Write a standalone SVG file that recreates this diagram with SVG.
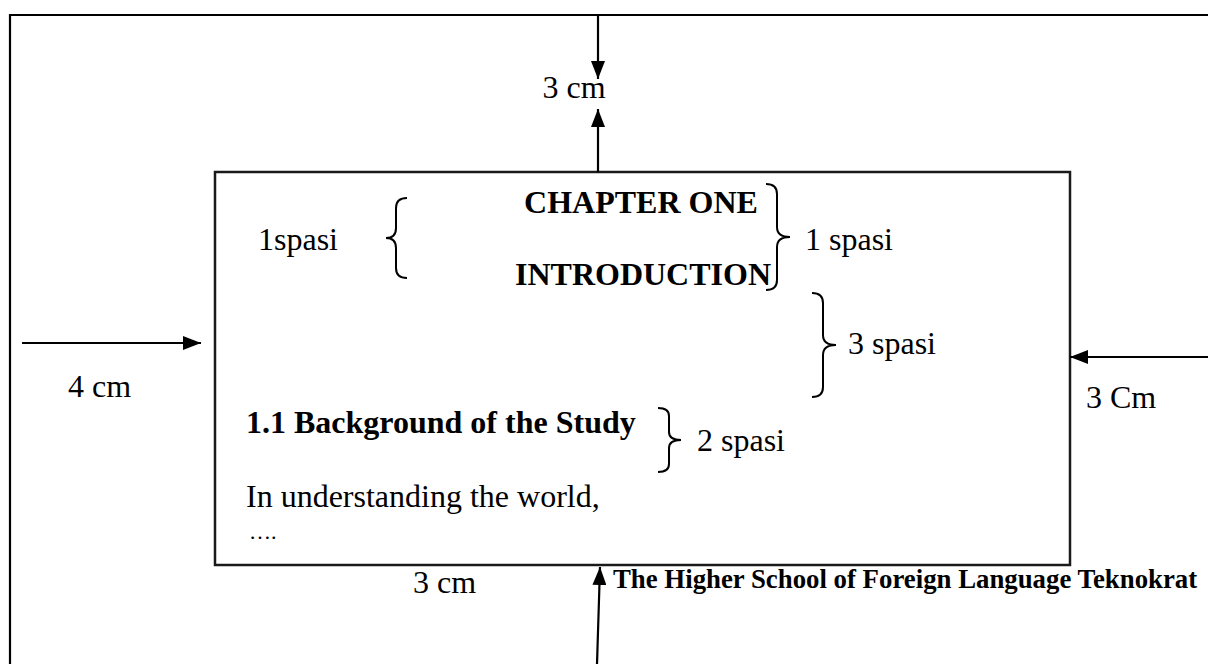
<svg xmlns="http://www.w3.org/2000/svg" width="1208" height="664" viewBox="0 0 1208 664">
<defs>
<marker id="ah" viewBox="0 0 18 14" refX="18" refY="7" markerWidth="18" markerHeight="14" markerUnits="userSpaceOnUse" orient="auto">
<path d="M0,0 L18,7 L0,14 Z" fill="#000"/>
</marker>
<style>
.ln{stroke:#000;stroke-width:2.2;fill:none}
.br{stroke:#000;stroke-width:2;fill:none}
.t{font-family:"Liberation Serif","Times New Roman",serif;font-size:32px;fill:#000}
.b{font-family:"Liberation Serif","Times New Roman",serif;font-size:32px;font-weight:bold;fill:#000}
.f{font-family:"Liberation Serif","Times New Roman",serif;font-size:26.8px;font-weight:bold;fill:#000}
</style>
</defs>
<rect width="1208" height="664" fill="#fff"/>
<g id="page">
<path class="ln" d="M10,664 V15 H1208"/>
</g>
<g id="textbox">
<rect x="215" y="172" width="855" height="393" fill="none" stroke="#1a1a1a" stroke-width="2.5"/>
<text class="b" x="641" y="213" text-anchor="middle">CHAPTER ONE</text>
<text class="b" x="643" y="285" text-anchor="middle">INTRODUCTION</text>
<text class="b" x="246" y="433">1.1 Background of the Study</text>
<text class="t" x="246" y="507">In understanding the world,</text>
<text class="t" x="249" y="539" style="font-size:22px">….</text>
</g>
<g id="braces">
<path class="br" d="M407,198 Q396,198 396,208 L396,228 Q396,238 386,238 Q396,238 396,248 L396,268 Q396,278 407,278"/>
<path class="br" d="M766,184 Q777,184 777,194 L777,227 Q777,237 790,237 Q777,237 777,247 L777,280 Q777,290 766,290"/>
<path class="br" d="M812,293 Q823,293 823,303 L823,335 Q823,345 836,345 Q823,345 823,355 L823,387 Q823,397 812,397"/>
<path class="br" d="M658,408 Q669,408 669,416 L669,432 Q669,440 681,440 Q669,440 669,448 L669,464 Q669,472 658,472"/>
</g>
<g id="labels">
<text class="t" x="574" y="98" text-anchor="middle">3 cm</text>
<text class="t" x="258" y="250">1spasi</text>
<text class="t" x="805" y="250">1 spasi</text>
<text class="t" x="848" y="354">3 spasi</text>
<text class="t" x="68" y="397">4 cm</text>
<text class="t" x="1086" y="408">3 Cm</text>
<text class="t" x="697" y="451">2 spasi</text>
<text class="t" x="413" y="593">3 cm</text>
<text class="f" x="613" y="588">The Higher School of Foreign Language Teknokrat</text>
</g>
<g id="connectors">
<line class="ln" x1="598" y1="15" x2="598" y2="79" marker-end="url(#ah)"/>
<line class="ln" x1="598" y1="172" x2="598" y2="109" marker-end="url(#ah)"/>
<line class="ln" x1="22" y1="343" x2="201" y2="343" marker-end="url(#ah)"/>
<line class="ln" x1="1208" y1="357" x2="1070" y2="357" marker-end="url(#ah)"/>
<line class="ln" x1="597" y1="664" x2="600" y2="567" marker-end="url(#ah)"/>
</g>
</svg>
